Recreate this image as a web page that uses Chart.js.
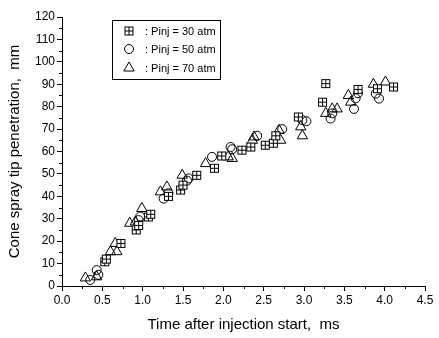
<!DOCTYPE html>
<html>
<head>
<meta charset="utf-8">
<script src="https://cdn.jsdelivr.net/npm/chart.js@4.4.0/dist/chart.umd.min.js"></script>
<style>
  html, body { margin: 0; padding: 0; background: #fff; }
  #wrap { width: 439px; height: 338px; }
</style>
</head>
<body>
<div id="wrap"><canvas id="myChart" width="439" height="338"></canvas></div>
<script>
// time after injection start (ms) and penetration (mm), one pair of arrays per pressure
const t30 = [0.53, 0.55, 0.73, 0.92, 0.95, 1.07, 1.10, 1.32, 1.47, 1.50, 1.67, 1.89, 1.98, 2.23, 2.34, 2.52, 2.62, 2.65, 2.93, 3.23, 3.27, 3.67, 3.91, 4.11]
const p30 = [10.8, 12, 19, 25, 27, 30.8, 32, 40, 42.8, 45, 49.4, 52.5, 58, 60.6, 62, 62.8, 63.7, 67, 75.4, 82, 90.3, 87.7, 88, 88.8]

const t50 = [0.35, 0.43, 0.45, 0.95, 0.97, 1.26, 1.32, 1.55, 1.57, 1.86, 2.09, 2.11, 2.42, 2.73, 2.98, 3.03, 3.33, 3.35, 3.62, 3.64, 3.67, 3.89, 3.93]
const p50 = [2.7, 7.1, 5, 29.4, 31, 39, 41.4, 47, 48, 57.6, 62, 61, 67, 70, 74, 73.5, 74.7, 77, 79, 83.7, 86, 85.8, 83.6]

const t70 = [0.29, 0.43, 0.60, 0.66, 0.68, 0.84, 0.91, 0.99, 1.22, 1.30, 1.49, 1.78, 2.06, 2.11, 2.38, 2.36, 2.69, 2.71, 2.96, 2.98, 3.27, 3.35, 3.41, 3.55, 3.58, 3.86, 4.01]
const p70 = [3.6, 4.1, 15.3, 19, 15.3, 28, 28.6, 34.6, 42, 44.2, 49.4, 54.6, 57.6, 56.9, 66.5, 65, 69.5, 65, 71, 67, 77, 79, 79, 85, 82, 90, 91]

const legendLabels = [': Pinj = 30 atm', ': Pinj = 50 atm', ': Pinj = 70 atm']

const toPoints = (xs, ys) => xs.map((x, i) => ({ x: x, y: ys[i] }))

// square with a cross inside
const makeGridSquare = (size) => {
    const c = document.createElement('canvas')
    c.width = size + 2
    c.height = size + 2
    const g = c.getContext('2d')
    g.strokeStyle = '#000'
    g.lineWidth = 1
    g.fillStyle = '#fff'
    g.fillRect(1, 1, size, size)
    g.strokeRect(1.5, 1.5, size - 1, size - 1)
    g.beginPath()
    g.moveTo(1 + size / 2, 1.5)
    g.lineTo(1 + size / 2, size + 0.5)
    g.moveTo(1.5, 1 + size / 2)
    g.lineTo(size + 0.5, 1 + size / 2)
    g.stroke()
    return c
}
const gridSquare = makeGridSquare(9)

const FONT = 'Liberation Sans, Arial, sans-serif'

const minorTicks = {
    id: 'minorTicks',
    afterDraw(chart) {
        const ctx = chart.ctx
        const xs = chart.scales.x
        const ys = chart.scales.y
        ctx.save()
        ctx.strokeStyle = '#000'
        ctx.lineWidth = 1
        ctx.beginPath()
        for (let v = 0.25; v < 4.5; v += 0.5) {
            const px = Math.round(xs.getPixelForValue(v)) + 0.5
            ctx.moveTo(px, ys.bottom)
            ctx.lineTo(px, ys.bottom + 3)
        }
        for (let v = 5; v < 120; v += 10) {
            const py = Math.round(ys.getPixelForValue(v)) + 0.5
            ctx.moveTo(xs.left, py)
            ctx.lineTo(xs.left - 3, py)
        }
        ctx.stroke()
        ctx.restore()
    }
}

const boxLegend = {
    id: 'boxLegend',
    afterDraw(chart) {
        const ctx = chart.ctx
        ctx.save()
        ctx.strokeStyle = '#000'
        ctx.lineWidth = 1
        ctx.strokeRect(112.5, 20.5, 108, 59)
        const rows = [31, 49, 68]
        const styles = [gridSquare, 'circle', 'triangle']
        const radii = [5, 4.5, 6]
        rows.forEach((y, i) => {
            ctx.fillStyle = '#fff'
            ctx.strokeStyle = '#000'
            ctx.lineWidth = 1
            Chart.helpers.drawPoint(ctx, { pointStyle: styles[i], radius: radii[i], borderWidth: 1, rotation: 0 }, 129, y)
            ctx.fillStyle = '#000'
            ctx.font = '11px ' + FONT
            ctx.textBaseline = 'middle'
            ctx.fillText(legendLabels[i], 145, y + 1)
        })
        ctx.restore()
    }
}

const ctx = document.getElementById('myChart').getContext('2d')
const myChart = new Chart(ctx, {
    type: 'scatter',
    data: {
        datasets: [{
            label: legendLabels[0],
            data: toPoints(t30, p30),
            pointStyle: gridSquare,
            pointRadius: 5
        }, {
            label: legendLabels[1],
            data: toPoints(t50, p50),
            pointStyle: 'circle',
            pointRadius: 4.5,
            pointBackgroundColor: 'rgba(255,255,255,0)',
            pointBorderColor: '#000',
            pointBorderWidth: 1
        }, {
            label: legendLabels[2],
            data: toPoints(t70, p70),
            pointStyle: 'triangle',
            pointRadius: 6,
            pointBackgroundColor: 'rgba(255,255,255,0)',
            pointBorderColor: '#000',
            pointBorderWidth: 1
        }]
    },
    options: {
        responsive: false,
        animation: false,
        layout: { padding: { left: 6, right: 14, top: 17, bottom: 4 } },
        plugins: {
            legend: { display: false },
            tooltip: { enabled: false }
        },
        scales: {
            x: {
                type: 'linear',
                min: 0,
                max: 4.5,
                ticks: {
                    stepSize: 0.5,
                    color: '#000',
                    font: { family: FONT, size: 12 },
                    padding: 2,
                    callback: (v) => v.toFixed(1)
                },
                grid: { display: true, drawOnChartArea: false, tickLength: 5, color: '#000' },
                border: { color: '#000', width: 1 },
                title: {
                    display: true,
                    text: 'Time after injection start,  ms',
                    color: '#000',
                    font: { family: FONT, size: 15 },
                    padding: { top: 4, bottom: 0 }
                },
                afterFit: (scale) => { scale.height = 48 }
            },
            y: {
                type: 'linear',
                min: 0,
                max: 120,
                ticks: {
                    stepSize: 10,
                    color: '#000',
                    font: { family: FONT, size: 12 },
                    padding: 2
                },
                grid: { display: true, drawOnChartArea: false, tickLength: 5, color: '#000' },
                border: { color: '#000', width: 1 },
                title: {
                    display: true,
                    text: 'Cone spray tip penetration,  mm',
                    color: '#000',
                    font: { family: FONT, size: 15 },
                    padding: { top: 0, bottom: 4 }
                },
                afterFit: (scale) => { scale.width = 56 }
            }
        }
    },
    plugins: [minorTicks, boxLegend]
})
</script>
</body>
</html>
